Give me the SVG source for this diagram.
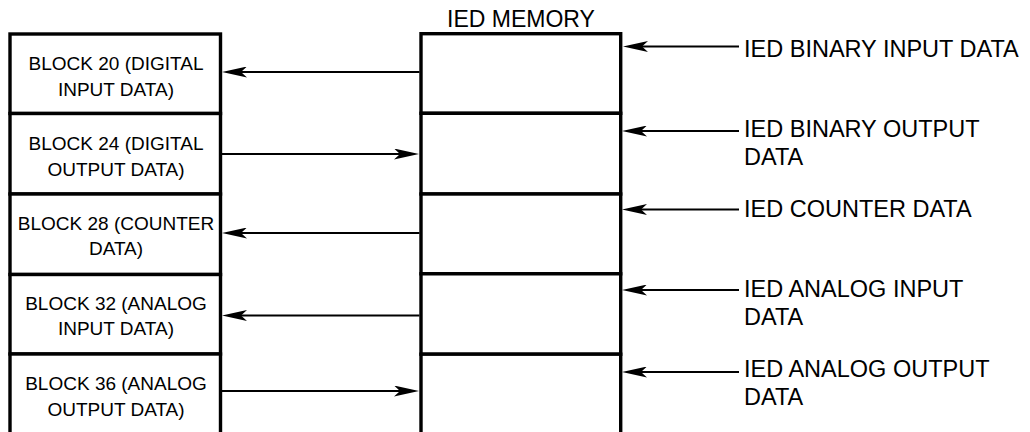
<svg xmlns="http://www.w3.org/2000/svg" width="1030" height="432" viewBox="0 0 1030 432">
<style>
.box{fill:#fff;stroke:#000;stroke-width:3.4}
.lt{font-family:"Liberation Sans",Arial,sans-serif;font-size:19px;fill:#000;text-anchor:middle}
.rt{font-family:"Liberation Sans",Arial,sans-serif;font-size:23.5px;fill:#000}
.ttl{font-family:"Liberation Sans",Arial,sans-serif;font-size:23px;fill:#000;text-anchor:middle}
.conn{fill:none;stroke:#000;stroke-width:2;marker-end:url(#ah)}
</style>
<defs>
<marker id="ah" markerUnits="userSpaceOnUse" viewBox="0 0 25 11" refX="15" refY="5.5" markerWidth="25" markerHeight="11" orient="auto">
<path d="M0,0 L25,5.5 L0,11 L6,5.5 Z" fill="#000"/>
</marker>
</defs>
<rect width="1030" height="432" fill="#fff"/>
<g id="block20"><rect class="box" x="10" y="34" width="210.5" height="79.5"/><text class="lt" x="116" y="69.5">BLOCK 20 (DIGITAL</text><text class="lt" x="116" y="95.5">INPUT DATA)</text></g>
<g id="block24"><rect class="box" x="10" y="113.5" width="210.5" height="80.5"/><text class="lt" x="116" y="150">BLOCK 24 (DIGITAL</text><text class="lt" x="116" y="176">OUTPUT DATA)</text></g>
<g id="block28"><rect class="box" x="10" y="194" width="210.5" height="80.5"/><text class="lt" x="116" y="229.5">BLOCK 28 (COUNTER</text><text class="lt" x="116" y="255">DATA)</text></g>
<g id="block32"><rect class="box" x="10" y="274.5" width="210.5" height="79.5"/><text class="lt" x="116" y="309.5">BLOCK 32 (ANALOG</text><text class="lt" x="116" y="335">INPUT DATA)</text></g>
<g id="block36"><rect class="box" x="10" y="354" width="210.5" height="90"/><text class="lt" x="116" y="390">BLOCK 36 (ANALOG</text><text class="lt" x="116" y="416">OUTPUT DATA)</text></g>
<g id="memory-title"><text class="ttl" x="521" y="27">IED MEMORY</text></g>
<g id="mem1"><rect class="box" x="421" y="33.7" width="199.7" height="79.6"/></g>
<g id="mem2"><rect class="box" x="421" y="113.3" width="199.7" height="80.7"/></g>
<g id="mem3"><rect class="box" x="421" y="194" width="199.7" height="79.8"/></g>
<g id="mem4"><rect class="box" x="421" y="273.8" width="199.7" height="80.4"/></g>
<g id="mem5"><rect class="box" x="421" y="354.2" width="199.7" height="90"/></g>
<g id="lbl-binary-input"><text class="rt" x="744" y="56.5">IED BINARY INPUT DATA</text></g>
<g id="lbl-binary-output"><text class="rt" x="744" y="137">IED BINARY OUTPUT</text><text class="rt" x="744" y="165">DATA</text></g>
<g id="lbl-counter"><text class="rt" x="744" y="216.5">IED COUNTER DATA</text></g>
<g id="lbl-analog-input"><text class="rt" x="744" y="296.5">IED ANALOG INPUT</text><text class="rt" x="744" y="325">DATA</text></g>
<g id="lbl-analog-output"><text class="rt" x="744" y="376.5">IED ANALOG OUTPUT</text><text class="rt" x="744" y="405">DATA</text></g>
<g id="connectors">
<path class="conn" d="M419.5,72 H232"/>
<path class="conn" d="M222,154 H409"/>
<path class="conn" d="M419.5,233 H232"/>
<path class="conn" d="M419.5,315.5 H232"/>
<path class="conn" d="M222,391 H409"/>
<path class="conn" d="M739,46.5 H633"/>
<path class="conn" d="M739,131 H632"/>
<path class="conn" d="M739,209.5 H632"/>
<path class="conn" d="M739,290 H632"/>
<path class="conn" d="M739,372 H632"/>
</g>
</svg>
